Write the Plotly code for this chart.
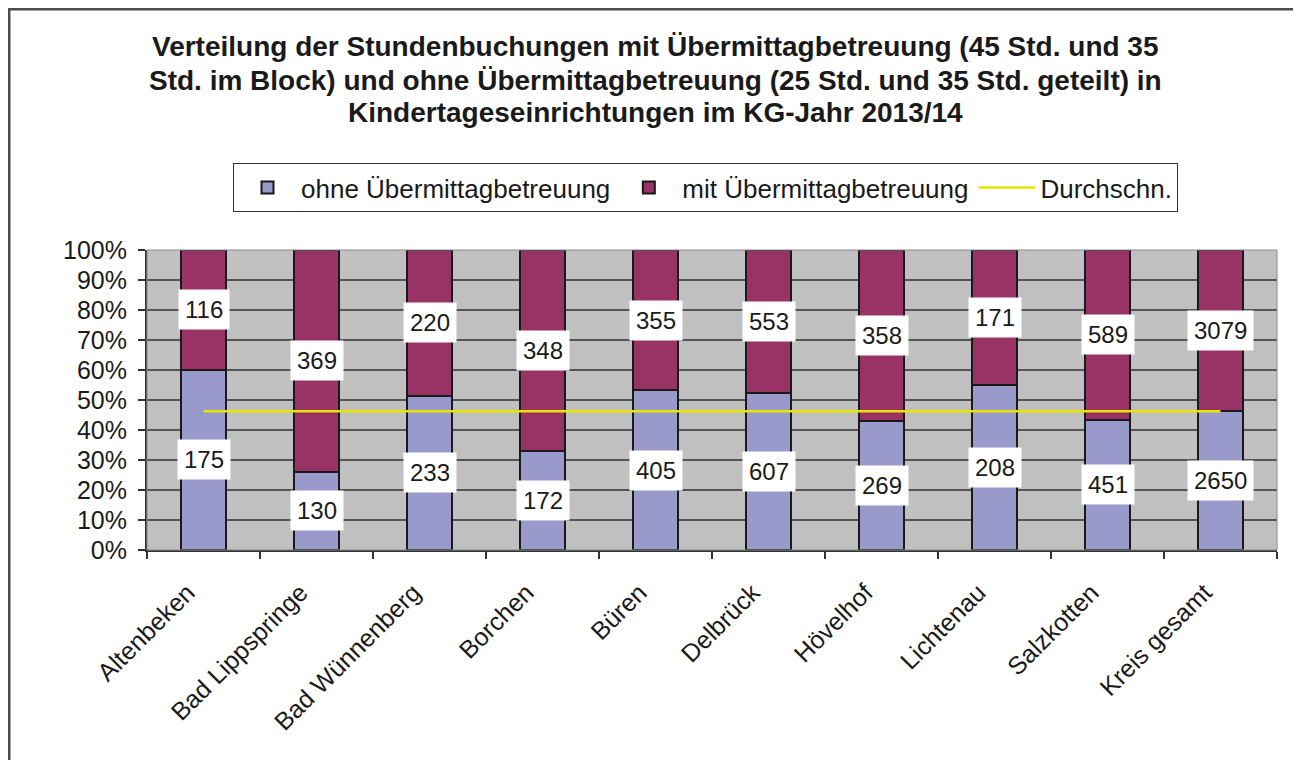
import plotly.graph_objects as go

categories = ["Altenbeken", "Bad Lippspringe", "Bad Wünnenberg", "Borchen", "Büren",
              "Delbrück", "Hövelhof", "Lichtenau", "Salzkotten", "Kreis gesamt"]
ohne = [175, 130, 233, 172, 405, 607, 269, 208, 451, 2650]
mit = [116, 369, 220, 348, 355, 553, 358, 171, 589, 3079]
durchschnitt_pct = 46.26
y_ticks = [0, 10, 20, 30, 40, 50, 60, 70, 80, 90, 100]
y_ticklabels = [f"{v}%" for v in y_ticks]

title_lines = [
    "Verteilung der Stundenbuchungen mit Übermittagbetreuung (45 Std. und 35",
    "Std. im Block) und ohne Übermittagbetreuung (25 Std. und 35 Std. geteilt) in",
    "Kindertageseinrichtungen im KG-Jahr 2013/14",
]

FONT = "Liberation Sans, Arial, sans-serif"
C_OHNE = "#9999CC"
C_MIT = "#993366"

# page has an 8px body margin; plot area in page pixels: x 147..1277, y 250..550
PX0, PX1, PY0, PY1 = 147, 1277, 250, 550


def px(xp):
    return (xp - PX0) / (PX1 - PX0)


def py(yp):
    return (PY1 - yp) / (PY1 - PY0)


fig = go.Figure()
fig.add_trace(go.Bar(x=categories, y=ohne, name="ohne Übermittagbetreuung",
                     marker=dict(color=C_OHNE, line=dict(color="#1a1a1a", width=2))))
fig.add_trace(go.Bar(x=categories, y=mit, name="mit Übermittagbetreuung",
                     marker=dict(color=C_MIT, line=dict(color="#1a1a1a", width=2))))
fig.add_trace(go.Scatter(x=categories, y=[durchschnitt_pct] * len(categories),
                         mode="lines", name="Durchschn.",
                         line=dict(color="#E6E600", width=2.5)))

annotations = []
for c, o, m in zip(categories, ohne, mit):
    tot = o + m
    po = o / tot * 100
    for val, ypos in ((o, po / 2), (m, po + (100 - po) / 2)):
        annotations.append(dict(x=c, y=ypos, xref="x", yref="y", text=str(val),
                                showarrow=False, bgcolor="white", borderpad=6,
                                font=dict(family=FONT, size=24, color="#1a1a1a")))

for i, line in enumerate(title_lines):
    annotations.append(dict(x=px(655), y=py(47 + 33 * i), xref="paper", yref="paper",
                            text=f"<b>{line}</b>", showarrow=False,
                            xanchor="center", yanchor="middle",
                            font=dict(family=FONT, size=28, color="#1a1a1a")))

fig.update_layout(
    barmode="stack",
    barnorm="percent",
    bargap=0.595,
    width=1293, height=752,
    margin=dict(l=139, r=24, t=242, b=210),
    paper_bgcolor="white",
    plot_bgcolor="#C0C0C0",
    font=dict(family=FONT, size=25, color="#1a1a1a"),
    showlegend=True,
    legend=dict(orientation="h", x=px(233), y=py(163), xanchor="left", yanchor="top",
                bgcolor="white", bordercolor="#333", borderwidth=1,
                font=dict(family=FONT, size=26, color="#1a1a1a"),
                itemwidth=57, traceorder="normal"),
    annotations=annotations,
    shapes=[
        dict(type="rect", xref="paper", yref="paper", x0=0, x1=1, y0=0, y1=1,
             line=dict(color="#8a8a8a", width=1), layer="above"),
        dict(type="rect", xref="paper", yref="paper",
             x0=px(9), x1=px(1297), y0=py(780), y1=py(9),
             line=dict(color="#4d4d4d", width=3), layer="below"),
    ],
)
fig.update_yaxes(range=[0, 100], tickvals=y_ticks, ticktext=y_ticklabels,
                 showgrid=True, gridcolor="#555555", gridwidth=1.5,
                 ticks="outside", ticklen=7, tickcolor="#333", tickwidth=1.5,
                 ticklabelstandoff=6,
                 showline=True, linecolor="#333", linewidth=2,
                 tickfont=dict(size=25), zeroline=False, fixedrange=True)
fig.update_xaxes(tickangle=-45, ticks="outside", tickson="boundaries", ticklen=7,
                 tickcolor="#333", tickwidth=1.5,
                 ticklabelstandoff=16, ticklabelshift=-16,
                 showline=True, linecolor="#333", linewidth=2,
                 tickfont=dict(size=25), showgrid=False)

fig.write_html("out.html")
